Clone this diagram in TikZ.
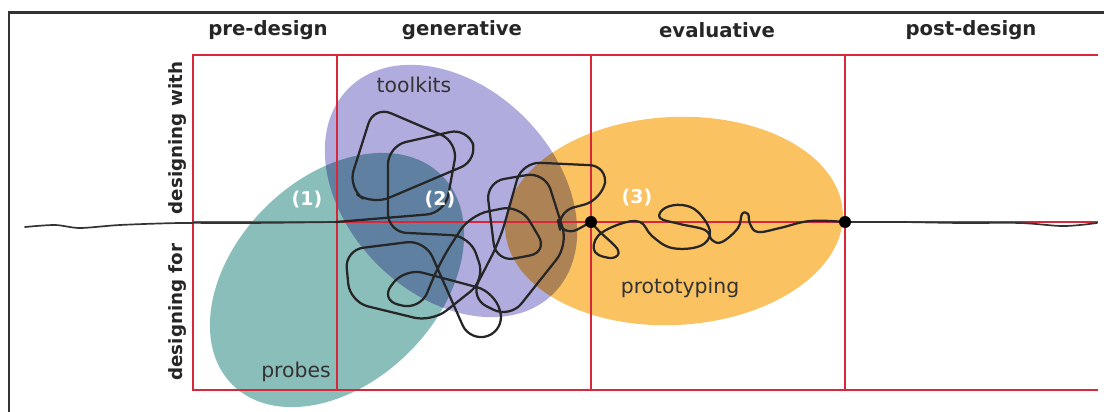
\documentclass[tikz,border=0pt]{standalone}
\usepackage{fontspec}
\setmainfont{DejaVu Sans}
\usepackage{tikz}
\usetikzlibrary{positioning}
\definecolor{probecolor}{RGB}{138,190,186}
\definecolor{toolcolor}{RGB}{176,172,222}
\definecolor{protocolor}{RGB}{251,194,98}
\definecolor{gridcolor}{RGB}{214,40,58}
\tikzset{
    grid line/.style={draw=gridcolor, line width=1.1pt},
    scribble/.style={draw=black!85, line width=1.6pt, line join=round, line cap=round},
    thin trail/.style={draw=black!80, line width=1.2pt, line cap=round},
    phase label/.style={font=\bfseries\fontsize{14}{16}\selectfont, text=black!85},
    mode label/.style={font=\bfseries\fontsize{13}{15}\selectfont, rotate=90, text=black!85},
    area label/.style={font=\fontsize{14.5}{17}\selectfont, text=black!80},
    step number/.style={font=\bfseries\fontsize{13.5}{16}\selectfont, text=white},
    waypoint/.style={circle, fill=black, minimum size=3mm, inner sep=0pt}
}
\begin{document}
\begin{tikzpicture}[x=0.025cm, y=-0.025cm]
\useasboundingbox (0,0) rectangle (1104,412);

% the three areas
\begin{scope}[blend group=multiply]
\fill[probecolor, rotate around={45:(337,280)}] (337,280) ellipse [x radius=148, y radius=102];
\fill[toolcolor, rotate around={-45:(451,191)}] (451,191) ellipse [x radius=145, y radius=104];
\fill[protocolor, rotate around={3:(674,221)}] (674,221) ellipse [x radius=169, y radius=104];
\end{scope}

% frame and grid
\draw[line width=2pt, black!80] (9,412) -- (9,12.5) -- (1104,12.5);
\draw[grid line] (1098,55) -- (193,55) -- (193,390) -- (1098,390);
\draw[grid line] (193,222) -- (1098,222);
\foreach \x in {337,591,845}
    \draw[grid line] (\x,55) -- (\x,390);

% labels
\node[phase label] (pre) at (268,30) {pre-design};
\node[phase label] (gen) at (462,30) {generative};
\node[phase label] (eval) at (717,30) {evaluative};
\node[phase label] (post) at (971,30) {post-design};
\node[mode label] (with) at (178,138) {designing with};
\node[mode label] (for) at (178,312) {designing for};
\node[area label] (toolkits) at (414,85) {toolkits};
\node[area label] (proto) at (680,288) {prototyping};
\node[area label] (probes) at (296,372) {probes};

% the design process line
\coordinate (start) at (25,227);
\coordinate (gate) at (336,222);
\coordinate (p1) at (591,222);
\coordinate (p2) at (845,222);
\coordinate (finish) at (1097,223);

\draw[thin trail] plot[smooth] coordinates {(start) (55,225) (80,228) (120,225) (180,223) (250,223) (gate)};
\draw[scribble, rounded corners=13pt] (gate) -- (445,213) -- (458,142) -- (374,106) -- (348,188)
    -- (372,205) -- (478,160) -- (468,128) -- (388,146) -- (388,232) -- (470,236)
    -- (485,280) -- (432,322) -- (350,302) -- (345,250) -- (425,240) -- (470,342)
    -- (505,330) -- (495,292) -- (405,268) -- (380,300) -- (420,310) -- (440,262)
    -- (470,215) -- (520,205) -- (548,252) -- (496,262) -- (486,182) -- (545,172)
    -- (568,245) -- (510,318) -- (470,298) -- (500,240) -- (522,162) -- (608,166)
    -- (602,200) -- (556,212) -- (562,238) -- (p1);
\draw[scribble] plot[smooth, tension=0.65] coordinates {(p1) (600,232) (618,250) (612,258)
    (595,252) (598,236) (620,224) (640,222) (652,236) (672,248) (700,246) (710,232)
    (698,212) (682,205) (665,208) (660,218) (680,224) (705,230) (712,240) (722,242)
    (738,228) (742,214) (748,214) (750,224) (758,232) (780,228) (810,221) (p2)};
\draw[thin trail] plot[smooth] coordinates {(p2) (900,222) (960,223) (1020,223) (1060,226) (1080,225) (finish)};

\node[waypoint] (dot1) at (p1) {};
\node[waypoint] (dot2) at (p2) {};
\node[step number] (n1) at (307,200) {(1)};
\node[step number] (n2) at (440,200) {(2)};
\node[step number] (n3) at (637,198) {(3)};
\end{tikzpicture}
\end{document}
